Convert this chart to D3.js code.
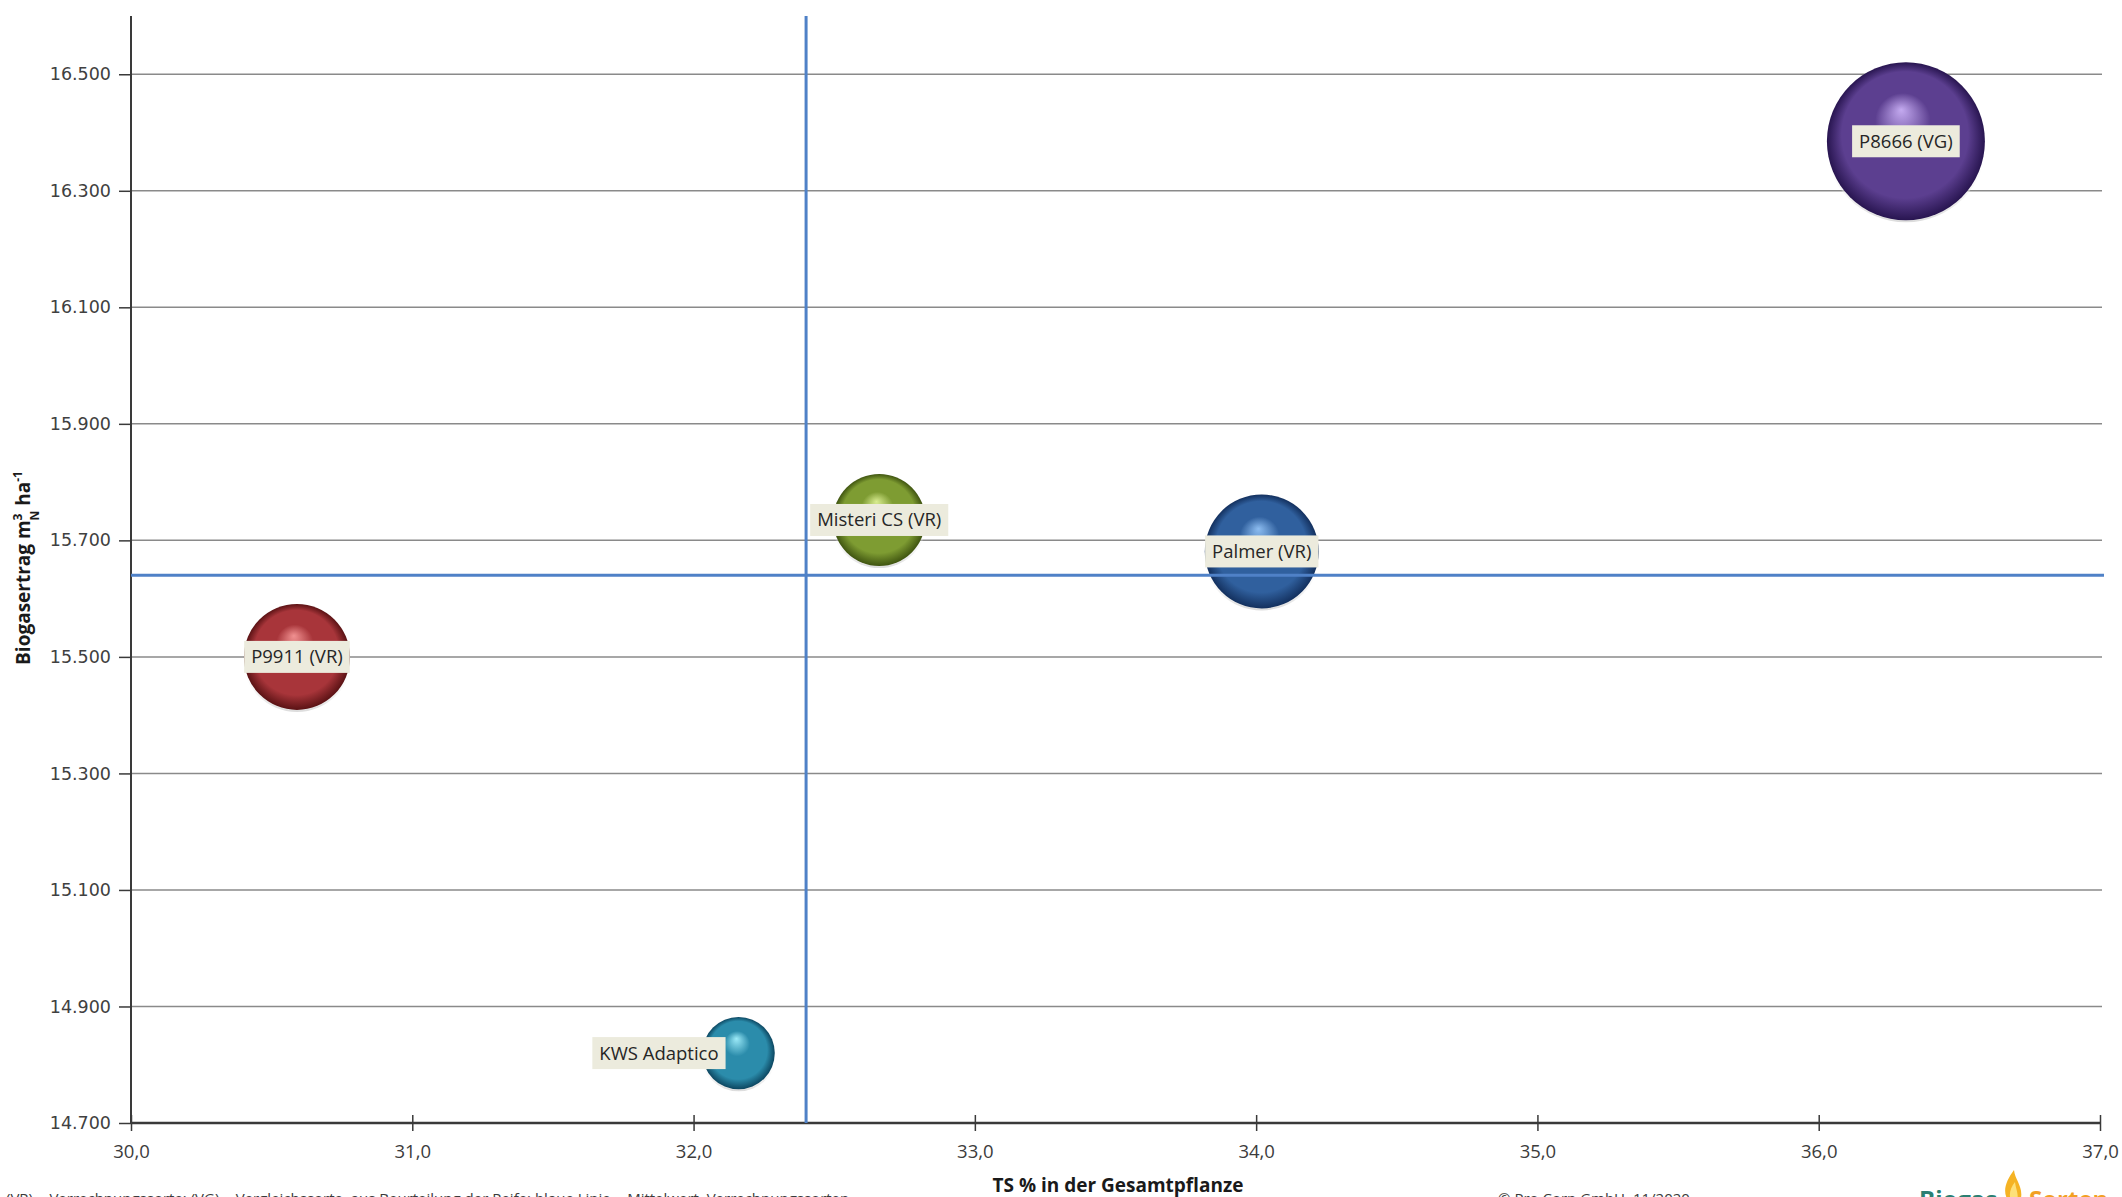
<!DOCTYPE html>
<html lang="de">
<head>
    <meta charset="UTF-8">
    <title>Biogasertrag vs. TS-Gehalt</title>
    <script src="https://d3js.org/d3.v7.min.js"></script>
    <style>
        body { margin: 0; background: #ffffff; }
        svg { display: block; font-family: "Open Sans", "Noto Sans", sans-serif; }
    </style>
</head>
<body>
<div id="chart"></div>
<script>
    // Sorten (bubble labels) and their values
    var varieties = ["P9911 (VR)", "Misteri CS (VR)", "Palmer (VR)", "P8666 (VG)", "KWS Adaptico"];
    var tsValues = [30.59, 32.66, 34.02, 36.31, 32.16];          // TS % in der Gesamtpflanze
    var biogasValues = [15500, 15735, 15681, 16385, 14820];     // Biogasertrag m³N/ha
    var bubbleSize = [45, 34, 52, 100, 21];                     // relative bubble size
    var labelSide = ["center", "center", "center", "center", "left"];

    // mean lines (blaue Linie = Mittelwert Verrechnungssorten)
    var meanTS = 32.40;
    var meanBiogas = 15640;

    // axis ticks
    var xTicks = [30, 31, 32, 33, 34, 35, 36, 37];
    var yTicks = [14700, 14900, 15100, 15300, 15500, 15700, 15900, 16100, 16300, 16500];

    // sphere colours: [highlight, base, dark]
    var sphereColors = [
        ["#f09090", "#a8353a", "#5a1214"],
        ["#d8ec90", "#7e9c32", "#3f5410"],
        ["#8cbcf0", "#30609e", "#13305e"],
        ["#c4aaf0", "#5c3f90", "#281550"],
        ["#9ceaf8", "#2b8cab", "#0c4660"]
    ];

    var width = 2122, height = 1197;
    var plotLeft = 131, plotRight = 2100, plotTop = 16, plotBottom = 1123;

    var svg = d3.select("#chart").append("svg")
        .attr("width", width)
        .attr("height", height);

    var x = d3.scaleLinear().domain([30, 37]).range([plotLeft, plotRight]);
    var y = d3.scaleLinear().domain([14700, 16600]).range([plotBottom, plotTop]);
    var r = d3.scaleSqrt().domain([0, d3.max(bubbleSize)]).range([0, 79]);

    var fmtY = d3.formatLocale({ decimal: ",", thousands: ".", grouping: [3], currency: ["", "€"] }).format(",.0f");
    var fmtX = function (d) { return d.toFixed(1).replace(".", ","); };

    // gradients for the 3D spheres
    var defs = svg.append("defs");
    sphereColors.forEach(function (c, i) {
        var g = defs.append("radialGradient")
            .attr("id", "sphere" + i)
            .attr("cx", "50%").attr("cy", "50%").attr("r", "50%")
            .attr("fx", "47%").attr("fy", "30%");
        g.append("stop").attr("offset", "0%").attr("stop-color", c[0]);
        g.append("stop").attr("offset", "35%").attr("stop-color", c[1]);
        g.append("stop").attr("offset", "80%").attr("stop-color", c[1]);
        g.append("stop").attr("offset", "100%").attr("stop-color", c[2]);
    });
    var rim = defs.append("linearGradient")
        .attr("id", "rim").attr("x1", 0).attr("y1", 0).attr("x2", 0).attr("y2", 1);
    rim.append("stop").attr("offset", "60%").attr("stop-color", "#ffffff").attr("stop-opacity", 0);
    rim.append("stop").attr("offset", "100%").attr("stop-color", "#d8d8d8").attr("stop-opacity", 0.9);

    // horizontal gridlines
    svg.append("g")
        .selectAll("line")
        .data(yTicks.slice(1))
        .enter().append("line")
        .attr("x1", plotLeft).attr("x2", plotRight + 2)
        .attr("y1", d => y(d)).attr("y2", d => y(d))
        .attr("stroke", "#8a8a8a")
        .attr("stroke-width", 1.5);

    // y axis
    var yAxis = svg.append("g")
        .attr("transform", `translate(${plotLeft},0)`)
        .call(d3.axisLeft(y).tickValues(yTicks).tickFormat(fmtY).tickSize(12).tickPadding(8));
    yAxis.select(".domain").attr("d", `M0,${plotTop}V${plotBottom}`).attr("stroke", "#3a3a3a").attr("stroke-width", 2);
    yAxis.selectAll(".tick line").attr("stroke", "#3a3a3a").attr("stroke-width", 1.5);
    yAxis.selectAll(".tick text")
        .attr("fill", "#404040")
        .style("font-family", "'DejaVu Sans', sans-serif")
        .style("font-size", "17.5px");

    // x axis (ticks crossing the line)
    var xAxis = svg.append("g")
        .attr("transform", `translate(0,${plotBottom})`)
        .call(d3.axisBottom(x).tickValues(xTicks).tickFormat(fmtX).tickSize(8).tickPadding(14));
    xAxis.select(".domain").attr("d", `M${plotLeft},0H${plotRight}`).attr("stroke", "#3a3a3a").attr("stroke-width", 2.5);
    xAxis.selectAll(".tick line").attr("y1", -8).attr("stroke", "#3a3a3a").attr("stroke-width", 1.5);
    xAxis.selectAll(".tick text")
        .attr("fill", "#3c3c3c")
        .style("font-family", "'Open Sans', sans-serif")
        .style("font-size", "18.5px");

    // bubbles
    var bubbles = svg.append("g")
        .selectAll("g")
        .data(varieties)
        .enter().append("g")
        .attr("transform", (d, i) => `translate(${x(tsValues[i])},${y(biogasValues[i])})`);

    bubbles.append("circle")
        .attr("r", (d, i) => r(bubbleSize[i]) + 2)
        .attr("fill", "url(#rim)");
    bubbles.append("circle")
        .attr("r", (d, i) => r(bubbleSize[i]))
        .attr("fill", (d, i) => `url(#sphere${i})`);

    // mean lines
    svg.append("line")
        .attr("x1", x(meanTS)).attr("x2", x(meanTS))
        .attr("y1", plotTop).attr("y2", plotBottom)
        .attr("stroke", "#4f81c7").attr("stroke-width", 3);
    svg.append("line")
        .attr("x1", plotLeft).attr("x2", plotRight + 4)
        .attr("y1", y(meanBiogas)).attr("y2", y(meanBiogas))
        .attr("stroke", "#4f81c7").attr("stroke-width", 3);

    // data labels
    var labels = svg.append("g")
        .selectAll("g")
        .data(varieties)
        .enter().append("g");

    labels.each(function (d, i) {
        var g = d3.select(this);
        var t = g.append("text")
            .attr("text-anchor", "middle")
            .attr("dy", "0.35em")
            .attr("fill", "#262626")
            .style("font-size", "18.5px")
            .text(d);
        var w = t.node().getComputedTextLength() + 14;
        var h = 32;
        var cx = x(tsValues[i]), cy = y(biogasValues[i]);
        if (labelSide[i] === "left") cx = cx - 13 - w / 2;
        g.attr("transform", `translate(${cx},${cy})`);
        g.insert("rect", "text")
            .attr("x", -w / 2).attr("y", -h / 2)
            .attr("width", w).attr("height", h)
            .attr("fill", "#ecebdd");
    });

    // axis titles
    svg.append("text")
        .attr("text-anchor", "middle")
        .attr("transform", "translate(30,568) rotate(-90)")
        .style("font-weight", "bold")
        .style("font-size", "19px")
        .attr("fill", "#1a1a1a")
        .call(function (t) {
            t.append("tspan").text("Biogasertrag m");
            t.append("tspan").attr("baseline-shift", "super").style("font-size", "12px").text("3");
            t.append("tspan").attr("baseline-shift", "sub").attr("dx", -7).style("font-size", "12px").text("N");
            t.append("tspan").text(" ha");
            t.append("tspan").attr("baseline-shift", "super").style("font-size", "12px").text("-1");
        });

    svg.append("text")
        .attr("x", 1118).attr("y", 1192)
        .attr("text-anchor", "middle")
        .style("font-weight", "bold")
        .style("font-size", "19px")
        .attr("fill", "#1a1a1a")
        .text("TS % in der Gesamtpflanze");

    // footer (cut off at the bottom edge, as in the source)
    svg.append("text")
        .attr("x", 6).attr("y", 1204)
        .style("font-size", "15px")
        .attr("fill", "#3a3a3a")
        .text("(VR) = Verrechnungssorte; (VG) = Vergleichssorte, aus Beurteilung der Reife; blaue Linie = Mittelwert, Verrechnungssorten");

    svg.append("text")
        .attr("x", 1498).attr("y", 1204)
        .style("font-size", "15px")
        .attr("fill", "#3a3a3a")
        .text("© Pro Corn GmbH, 11/2020");

    // Biogas Sorten logo
    var logo = svg.append("g").attr("transform", "translate(1919,1208)");
    logo.append("text")
        .style("font-size", "24px").style("font-weight", "bold")
        .attr("fill", "#2b7f72")
        .text("Biogas");
    logo.append("path")
        .attr("d", "M92,-4 C82,-14 86,-26 95,-38 C96,-28 104,-22 102,-10 C101,-6 97,-3 92,-4 Z")
        .attr("fill", "#f5b324");
    logo.append("path")
        .attr("d", "M93,-6 C89,-12 91,-20 96,-26 C97,-18 100,-14 98,-8 Z")
        .attr("fill", "#fde07a");
    logo.append("text")
        .attr("x", 110)
        .style("font-size", "24px").style("font-weight", "bold")
        .attr("fill", "#f2a023")
        .text("Sorten");
</script>
</body>
</html>
